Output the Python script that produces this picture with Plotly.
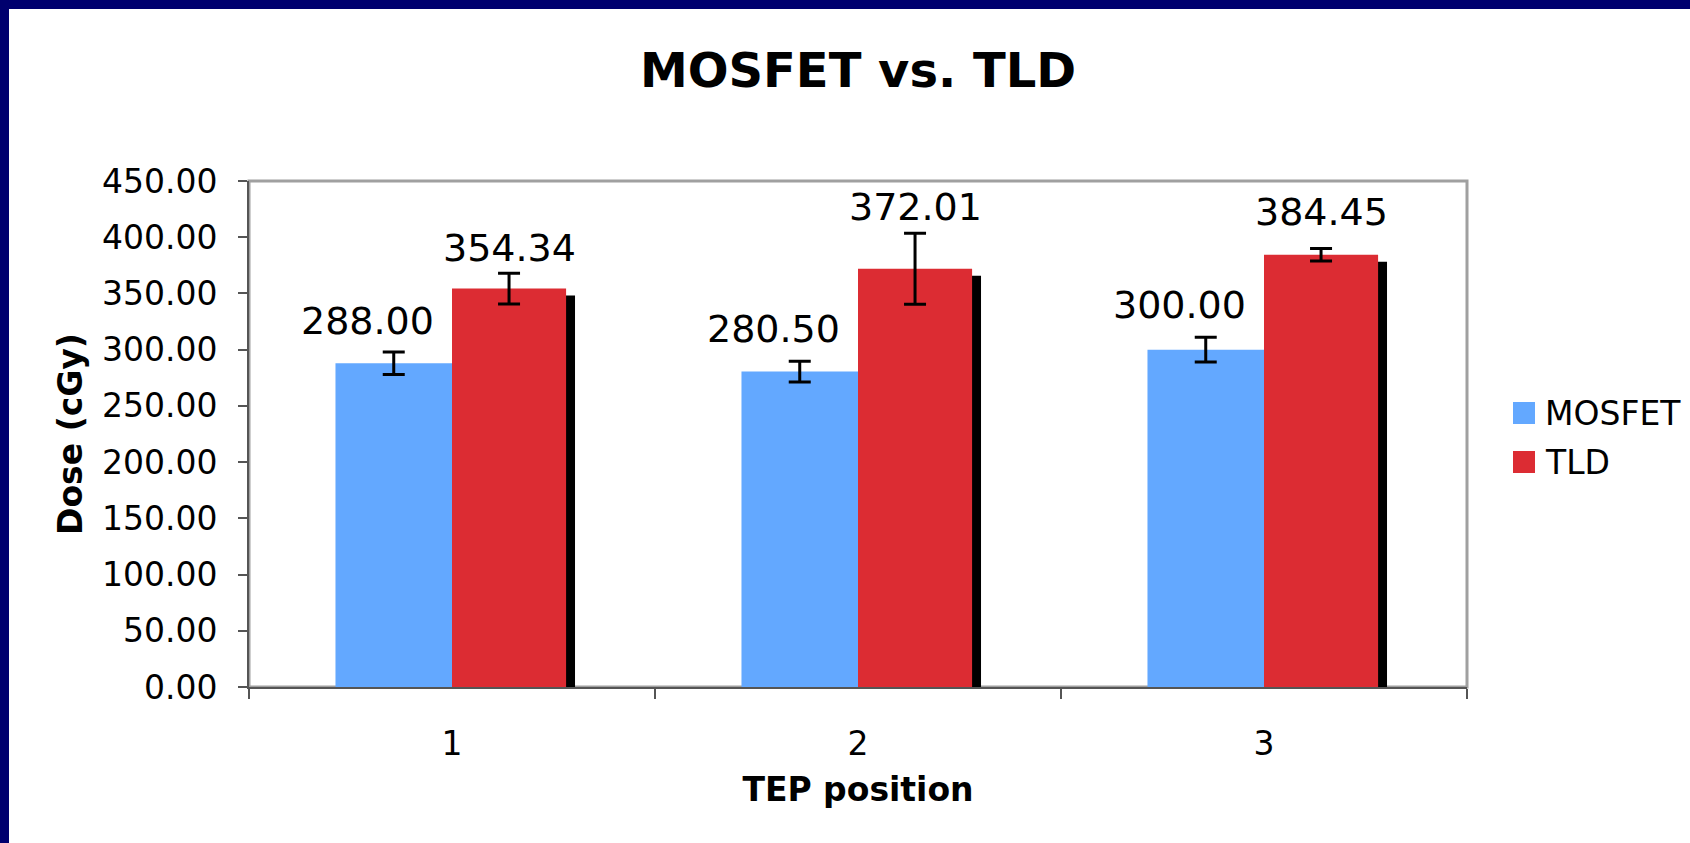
import plotly.graph_objects as go

# ---- data ----
POSITIONS = [1, 2, 3]
POSITION_LABELS = ["1", "2", "3"]
MOSFET = [288.00, 280.50, 300.00]
MOSFET_ERR = [10.0, 9.2, 11.0]
TLD = [354.34, 372.01, 384.45]
TLD_ERR = [13.7, 31.6, 5.6]
Y_TICKS = [0, 50, 100, 150, 200, 250, 300, 350, 400, 450]
SERIES_NAMES = ["MOSFET", "TLD"]

# ---- style ----
W, H = 1690, 843
L, R, T, B = 249, 1467, 181, 687
BLUE = "#63A8FF"
RED = "#DC2C33"
NAVY = "#00006E"
FONT = "DejaVu Sans"
Y_MAX = 450
PX_PER_UNIT = (B - T) / Y_MAX
SHADOW_DROP = 7 / PX_PER_UNIT

def px_x(p):
    return (p - L) / (R - L)

def px_y(p):
    return (B - p) / (B - T)

fig = go.Figure()
err_style = dict(type="data", color="black", thickness=3, width=11, visible=True)

fig.add_bar(x=POSITIONS, y=MOSFET, name=SERIES_NAMES[0], offset=-0.287, width=0.287,
            marker=dict(color=BLUE, line=dict(width=0)),
            error_y=dict(array=MOSFET_ERR, **err_style), showlegend=False)
fig.add_bar(x=POSITIONS, y=[v - SHADOW_DROP for v in TLD], name="shadow", offset=0.022, width=0.281,
            marker=dict(color="black", line=dict(width=0)), showlegend=False, hoverinfo="skip")
fig.add_bar(x=POSITIONS, y=TLD, name=SERIES_NAMES[1], offset=0.0, width=0.281,
            marker=dict(color=RED, line=dict(width=0)),
            error_y=dict(array=TLD_ERR, **err_style), showlegend=False)

annotations = []
blue_shift = [18, 19, 21]
red_shift = [17, 38, 19]
for i, p in enumerate(POSITIONS):
    annotations.append(dict(x=p - 0.1435, y=MOSFET[i], xref="x", yref="y", text=f"{MOSFET[i]:.2f}",
                            showarrow=False, yanchor="bottom", xanchor="center", xshift=-26,
                            yshift=blue_shift[i], font=dict(family=FONT, size=38, color="black")))
    annotations.append(dict(x=p + 0.1405, y=TLD[i], xref="x", yref="y", text=f"{TLD[i]:.2f}",
                            showarrow=False, yanchor="bottom", xanchor="center",
                            yshift=red_shift[i], font=dict(family=FONT, size=38, color="black")))

# manual legend (large square keys)
shapes = []
legend_rows = [(SERIES_NAMES[0], BLUE, 413), (SERIES_NAMES[1], RED, 462)]
for name, col, cy in legend_rows:
    shapes.append(dict(type="rect", xref="paper", yref="paper", x0=px_x(1513), x1=px_x(1535),
                       y0=px_y(cy + 11), y1=px_y(cy - 11), fillcolor=col, line=dict(width=0)))
    annotations.append(dict(x=px_x(1543), y=px_y(cy), xref="paper", yref="paper", text=name,
                            showarrow=False, xanchor="left", yanchor="middle",
                            font=dict(family=FONT, size=33, color="black")))

# plot frame (top/right gray)
shapes.append(dict(type="rect", xref="paper", yref="paper", x0=0, x1=1, y0=0, y1=1,
                   line=dict(color="#A0A0A0", width=3), layer="below"))
# slide border (top and left navy strips)
shapes.append(dict(type="rect", xref="paper", yref="paper", x0=px_x(0), x1=px_x(W),
                   y0=px_y(9), y1=px_y(0), fillcolor=NAVY, line=dict(width=0)))
shapes.append(dict(type="rect", xref="paper", yref="paper", x0=px_x(0), x1=px_x(9),
                   y0=px_y(H), y1=px_y(0), fillcolor=NAVY, line=dict(width=0)))

fig.update_layout(
    width=W, height=H,
    margin=dict(l=L, r=W - R, t=T, b=H - B, pad=0),
    paper_bgcolor="white", plot_bgcolor="white",
    barmode="overlay",
    showlegend=False,
    title=dict(text="MOSFET vs. TLD", x=px_x(858), xanchor="center", xref="paper",
               y=1 - 70 / H, yref="container", yanchor="middle",
               font=dict(family=FONT, size=48, color="black", weight="bold")),
    font=dict(family=FONT, color="black"),
    annotations=annotations,
    shapes=shapes,
)

fig.update_xaxes(
    range=[0.5, 3.5], tickvals=POSITIONS, ticktext=POSITION_LABELS, ticks="",
    tickfont=dict(family=FONT, size=33, color="black"), ticklabelstandoff=26,
    showgrid=False, zeroline=False,
    showline=True, linecolor="#555555", linewidth=2,
    minor=dict(tickvals=[0.5, 1.5, 2.5, 3.5], ticks="outside", ticklen=10, tickcolor="#555555",
               tickwidth=2, showgrid=False),
    title=dict(text="TEP position", standoff=16,
               font=dict(family=FONT, size=33, color="black", weight="bold")),
)
fig.update_yaxes(
    range=[0, Y_MAX], tickvals=Y_TICKS, tickformat=".2f",
    ticks="outside", ticklen=9, tickcolor="#555555", tickwidth=2,
    tickfont=dict(family=FONT, size=33, color="black"), ticklabelstandoff=14,
    showgrid=False, zeroline=False,
    showline=True, linecolor="#555555", linewidth=2,
    title=dict(text="Dose (cGy)", standoff=9,
               font=dict(family=FONT, size=33, color="black", weight="bold")),
)

fig.write_html("out.html", config={"displayModeBar": False},
               post_script="document.body.style.margin='0';document.body.style.overflow='hidden';")
